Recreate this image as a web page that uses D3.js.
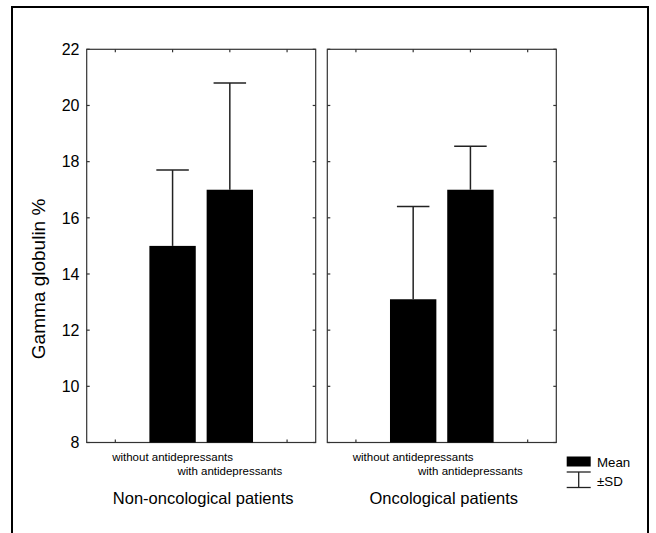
<!DOCTYPE html>
<html>
<head>
<meta charset="utf-8">
<script src="https://cdn.jsdelivr.net/npm/d3@7"></script>
<style>
  html, body { margin: 0; padding: 0; background: #fff; }
  svg { display: block; font-family: "Liberation Sans", Arial, sans-serif; }
</style>
</head>
<body>
<svg id="chart" width="656" height="533"></svg>
<script>
// ---- Data ----
const groups = ["Non-oncological patients", "Oncological patients"];
const categories = ["without antidepressants", "with antidepressants"];
const meansNonOnc = [15.0, 17.0];
const sdNonOnc = [2.7, 3.8];
const meansOnc = [13.1, 17.0];
const sdOnc = [3.3, 1.55];
const yTicks = [8, 10, 12, 14, 16, 18, 20, 22];
const yTitle = "Gamma globulin %";
const legendLabels = ["Mean", "\u00b1SD"];

const panelData = [
  { name: groups[0], means: meansNonOnc, sd: sdNonOnc },
  { name: groups[1], means: meansOnc, sd: sdOnc }
];

// ---- Layout ----
const svg = d3.select("#chart");
const panelLefts = [86.7, 327.3];
const panelW = 229;
const yTop = 49.3, yBottom = 442.5;
const axisColor = "#333";

const y = d3.scaleLinear().domain([8, 22]).range([yBottom, yTop]);

// Outer frame (extends beyond bottom)
svg.append("path")
  .attr("d", "M12,540 L12,7 L648,7 L648,540")
  .attr("fill", "none").attr("stroke", "#000").attr("stroke-width", 2);

panelData.forEach((p, pi) => {
  const left = panelLefts[pi];
  const x = d3.scalePoint().domain(categories).range([left, left + panelW]).padding(1.5);
  const step = x.step();
  const bw = step * 0.81;
  const g = svg.append("g");

  // frame
  g.append("rect").attr("x", left).attr("y", yTop).attr("width", panelW).attr("height", yBottom - yTop)
    .attr("fill", "none").attr("stroke", axisColor).attr("stroke-width", 1.2);

  // x tick positions (4 slots)
  const xTickPos = [x(categories[0]) - step, x(categories[0]), x(categories[1]), x(categories[1]) + step];
  xTickPos.forEach(xp => {
    g.append("line").attr("x1", xp).attr("x2", xp).attr("y1", yTop).attr("y2", yTop + 3)
      .attr("stroke", axisColor).attr("stroke-width", 1.2);
    g.append("line").attr("x1", xp).attr("x2", xp).attr("y1", yBottom).attr("y2", yBottom - 3)
      .attr("stroke", axisColor).attr("stroke-width", 1.2);
  });
  // y ticks inward on both sides
  yTicks.forEach(t => {
    g.append("line").attr("x1", left).attr("x2", left + 3).attr("y1", y(t)).attr("y2", y(t))
      .attr("stroke", axisColor).attr("stroke-width", 1.2);
    g.append("line").attr("x1", left + panelW).attr("x2", left + panelW - 3).attr("y1", y(t)).attr("y2", y(t))
      .attr("stroke", axisColor).attr("stroke-width", 1.2);
  });

  // bars
  g.selectAll("rect.bar").data(p.means).join("rect").attr("class", "bar")
    .attr("x", (d, i) => x(categories[i]) - bw / 2)
    .attr("y", d => y(d))
    .attr("width", bw)
    .attr("height", d => y(8) - y(d))
    .attr("fill", "#000");

  // error bars (upper)
  const capW = 32.5;
  p.means.forEach((m, i) => {
    const cx = x(categories[i]);
    g.append("line").attr("x1", cx).attr("x2", cx).attr("y1", y(m)).attr("y2", y(m + p.sd[i]))
      .attr("stroke", "#222").attr("stroke-width", 1.5);
    g.append("line").attr("x1", cx - capW / 2).attr("x2", cx + capW / 2)
      .attr("y1", y(m + p.sd[i])).attr("y2", y(m + p.sd[i]))
      .attr("stroke", "#222").attr("stroke-width", 1.5);
  });

  // category labels
  g.append("text").attr("x", x(categories[0])).attr("y", 460.5).attr("text-anchor", "middle")
    .attr("font-size", 11.5).text(categories[0]);
  g.append("text").attr("x", x(categories[1])).attr("y", 474.5).attr("text-anchor", "middle")
    .attr("font-size", 11.5).text(categories[1]);

  // group label
  g.append("text").attr("x", left + panelW / 2 + 2).attr("y", 504).attr("text-anchor", "middle")
    .attr("font-size", 16.5).text(p.name);
});

// y tick labels (left panel)
svg.append("g").selectAll("text").data(yTicks).join("text")
  .attr("x", 79.5).attr("y", d => y(d)).attr("dy", "0.36em")
  .attr("text-anchor", "end").attr("font-size", 16).text(d => d);

// y title
svg.append("text").attr("transform", `translate(45,${(yTop + yBottom) / 2 + 33}) rotate(-90)`)
  .attr("text-anchor", "middle").attr("font-size", 19).text(yTitle);

// legend
const lg = svg.append("g");
lg.append("rect").attr("x", 566.7).attr("y", 456.5).attr("width", 24).attr("height", 10).attr("fill", "#000");
lg.append("line").attr("x1", 566.7).attr("x2", 590.7).attr("y1", 472).attr("y2", 472).attr("stroke", "#222").attr("stroke-width", 1.3);
lg.append("line").attr("x1", 578.7).attr("x2", 578.7).attr("y1", 472).attr("y2", 487.5).attr("stroke", "#222").attr("stroke-width", 1.3);
lg.append("line").attr("x1", 566.7).attr("x2", 590.7).attr("y1", 487.5).attr("y2", 487.5).attr("stroke", "#222").attr("stroke-width", 1.3);
lg.append("text").attr("x", 597).attr("y", 467).attr("font-size", 13.3).text(legendLabels[0]);
lg.append("text").attr("x", 597).attr("y", 485.5).attr("font-size", 13.3).text(legendLabels[1]);
</script>
</body>
</html>
